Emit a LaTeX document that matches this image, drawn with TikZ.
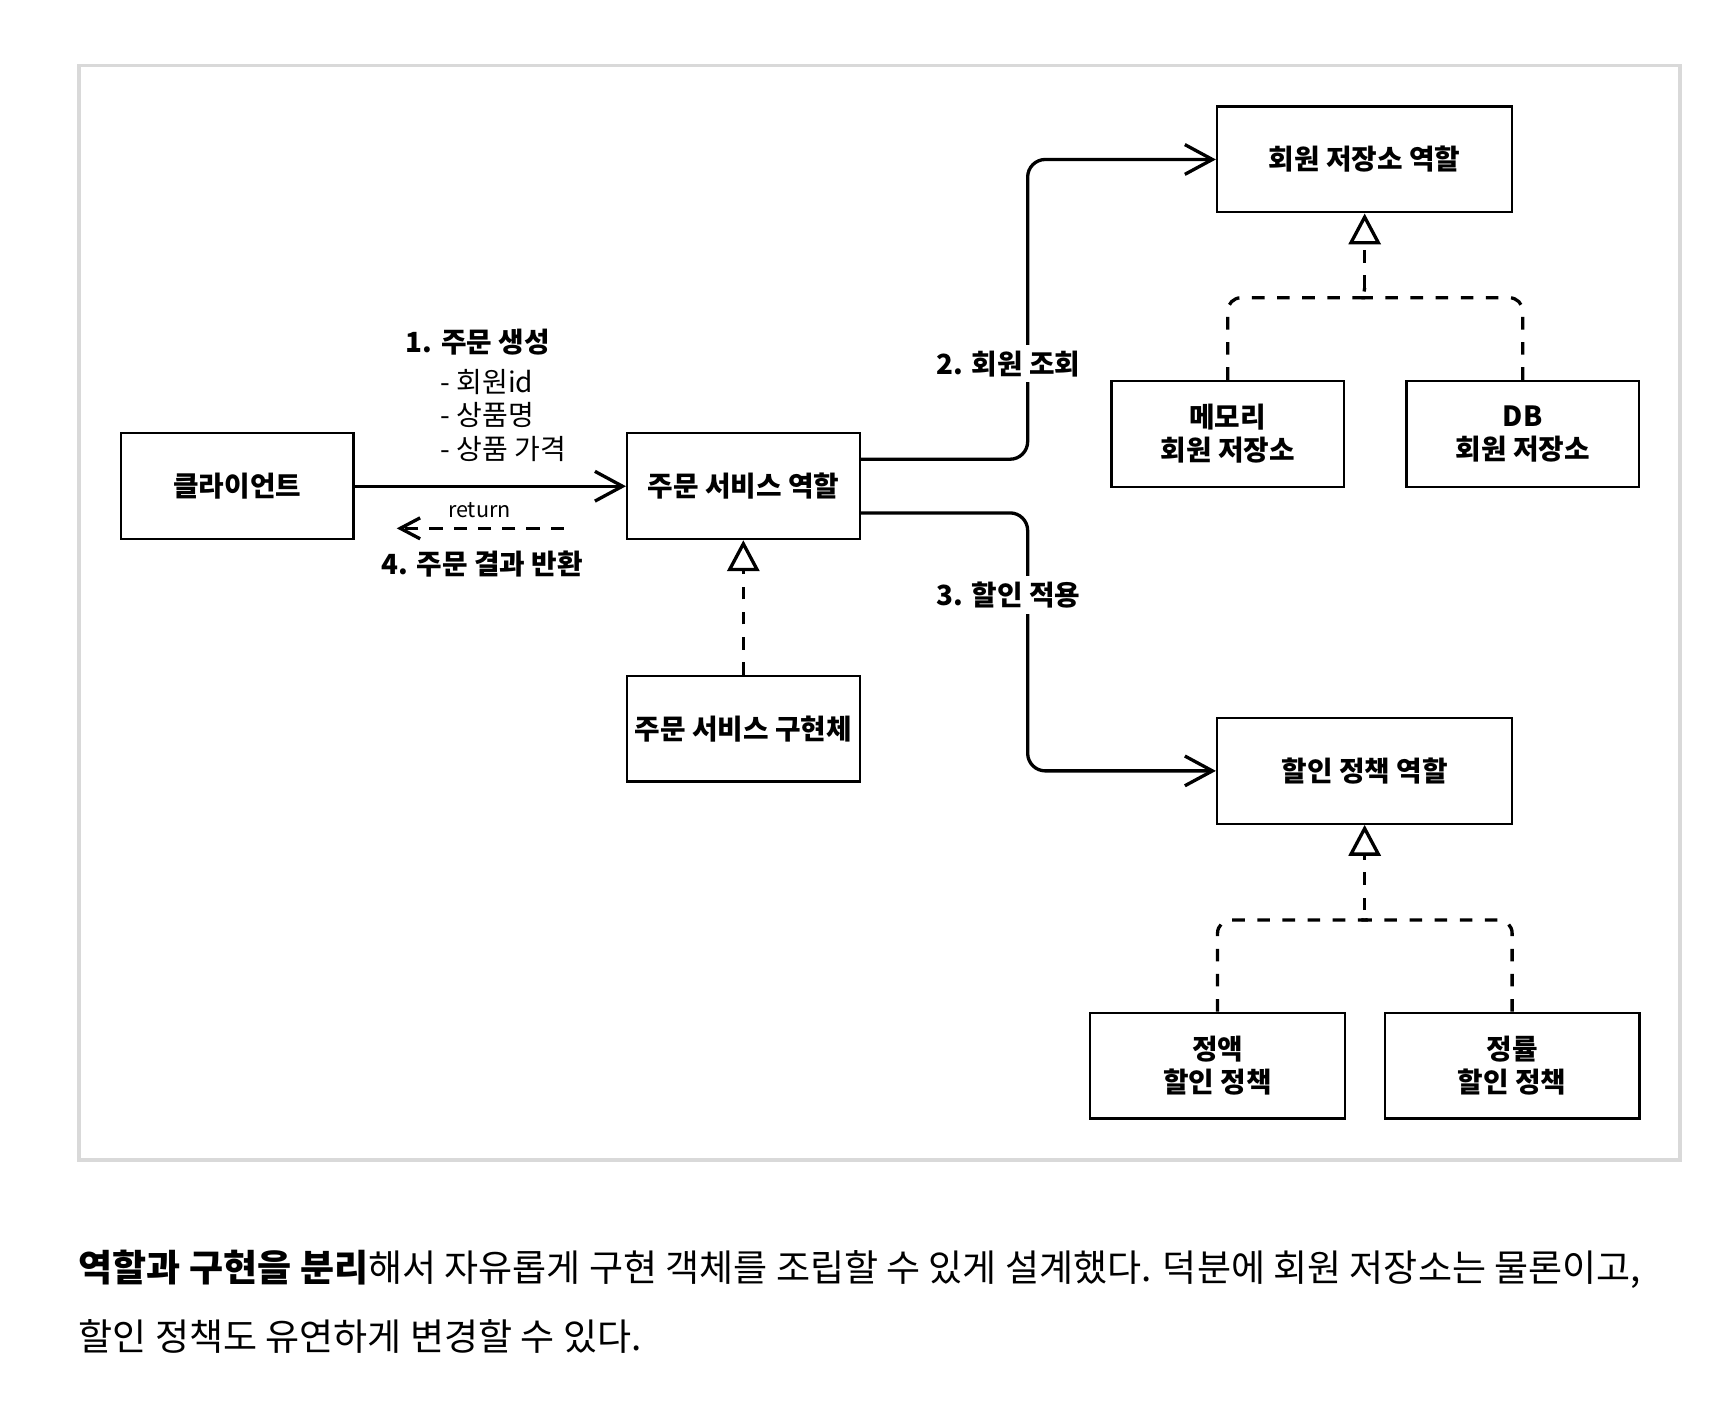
\documentclass[tikz,border=0pt]{standalone}
\usepackage{fontspec}
\setmainfont{Noto Sans CJK KR}
\usetikzlibrary{arrows.meta}

\begin{document}
\begin{tikzpicture}
  [x=0.5pt, y=-0.5pt,
    box/.style={rectangle, draw=black, line width=1pt, minimum width=105.5pt, minimum height=48pt, align=center, font=\fontsize{12.6pt}{15pt}\selectfont\bfseries},
    rolebox/.style={box, minimum width=134pt},
    policybox/.style={box, minimum width=115.5pt},
    call/.style={line width=1.5pt, rounded corners=8pt, -{Straight Barb[length=12.5pt, width=13.5pt]}},
    ret/.style={line width=1.5pt, dash pattern=on 6pt off 5pt, -{Straight Barb[length=9pt, width=9.5pt]}},
    impl/.style={line width=1.5pt, dash pattern=on 5.7pt off 5.7pt},
    realize/.style={impl, -{Triangle[open, length=14pt, width=14.5pt]}},
    msg/.style={inner sep=0pt, font=\fontsize{12.6pt}{14pt}\selectfont\bfseries},
    tag/.style={msg, fill=white, inner ysep=2.5pt},
    params/.style={inner sep=0pt, anchor=west, align=left, font=\fontsize{12.7pt}{15pt}\selectfont},
    sentence/.style={inner sep=0pt, anchor=west, font=\fontsize{16.8pt}{19pt}\selectfont}
  ]

  \useasboundingbox (0,0) rectangle (1568,1275.8);
  \draw[draw=black!15, line width=1.6pt] (71.7,59.3) rectangle (1524.6,1052.6);

  % boxes
  \path (215.3, 441.2) node[box] (client) {클라이언트}
        (674.5, 441.2) node[box] (order) {주문 서비스 역할}
        (674.5, 661.2) node[box] (orderimpl) {주문 서비스 구현체}
        (1238.3,144.7) node[rolebox] (memrole) {회원 저장소 역할}
        (1114.0,393.6) node[box] (memory) {메모리\\회원 저장소}
        (1381.7,393.6) node[box] (dbrepo) {DB\\회원 저장소}
        (1238.3,699.5) node[rolebox] (discrole) {할인 정책 역할}
        (1104.8,966.9) node[policybox] (fixdisc) {정액\\할인 정책}
        (1372.1,966.9) node[policybox] (ratedisc) {정률\\할인 정책};

  % client <-> order service
  \draw[call] (client) -- (order);
  \node[msg] (create) at (433.5,310) {1. 주문 생성};
  \node[params] (createargs) at (399.5,377) {- 회원id\\- 상품명\\- 상품 가격};

  \coordinate (retfrom) at (511.6,479.4);
  \coordinate (retto) at (360,479.4);
  \draw[ret] (retfrom) -- (retto);
  \node[msg, font=\fontsize{9.8pt}{11pt}\selectfont] (retword) at (435,462.7) {return};
  \node[msg] (retmsg) at (437.5,512) {4. 주문 결과 반환};

  % order service -> roles
  \coordinate (bus) at (932.5,0);
  \draw[call] ([yshift=12.25pt]order.east) -| (bus |- memrole.west) -- (memrole.west);
  \draw[call] ([yshift=-12.1pt]order.east) -| (bus |- discrole.west) -- (discrole.west);
  \node[tag] (lookup) at (915,330) {2. 회원 조회};
  \node[tag] (apply) at (915,540) {3. 할인 적용};

  % realizations
  \draw[realize] (orderimpl.north) -- (order.south);

  \coordinate (memjoin) at ([yshift=-38.25pt]memrole.south);
  \draw[impl, rounded corners=6pt] (memory.north) |- ([xshift=-4.5pt]memjoin) arc[start angle=-90, end angle=0, radius=4.5pt];
  \draw[impl, rounded corners=6pt] (dbrepo.north) |- ([xshift=4.5pt]memjoin) arc[start angle=-90, end angle=-180, radius=4.5pt];
  \draw[realize] ([yshift=4.5pt]memjoin) -- (memrole.south);

  \coordinate (discjoin) at ([yshift=-43.15pt]discrole.south);
  \draw[impl, rounded corners=6pt] (fixdisc.north) |- ([xshift=-4.5pt]discjoin) arc[start angle=-90, end angle=0, radius=4.5pt];
  \draw[impl, rounded corners=6pt] (ratedisc.north) |- ([xshift=4.5pt]discjoin) arc[start angle=-90, end angle=-180, radius=4.5pt];
  \draw[realize] ([yshift=4.5pt]discjoin) -- (discrole.south);

  % text below
  \node[sentence] (summary1) at (71,1151.7) {\textbf{역할과 구현을 분리}해서 자유롭게 구현 객체를 조립할 수 있게 설계했다. 덕분에 회원 저장소는 물론이고,};
  \node[sentence] (summary2) at (71,1213) {할인 정책도 유연하게 변경할 수 있다.};

\end{tikzpicture}
\end{document}
